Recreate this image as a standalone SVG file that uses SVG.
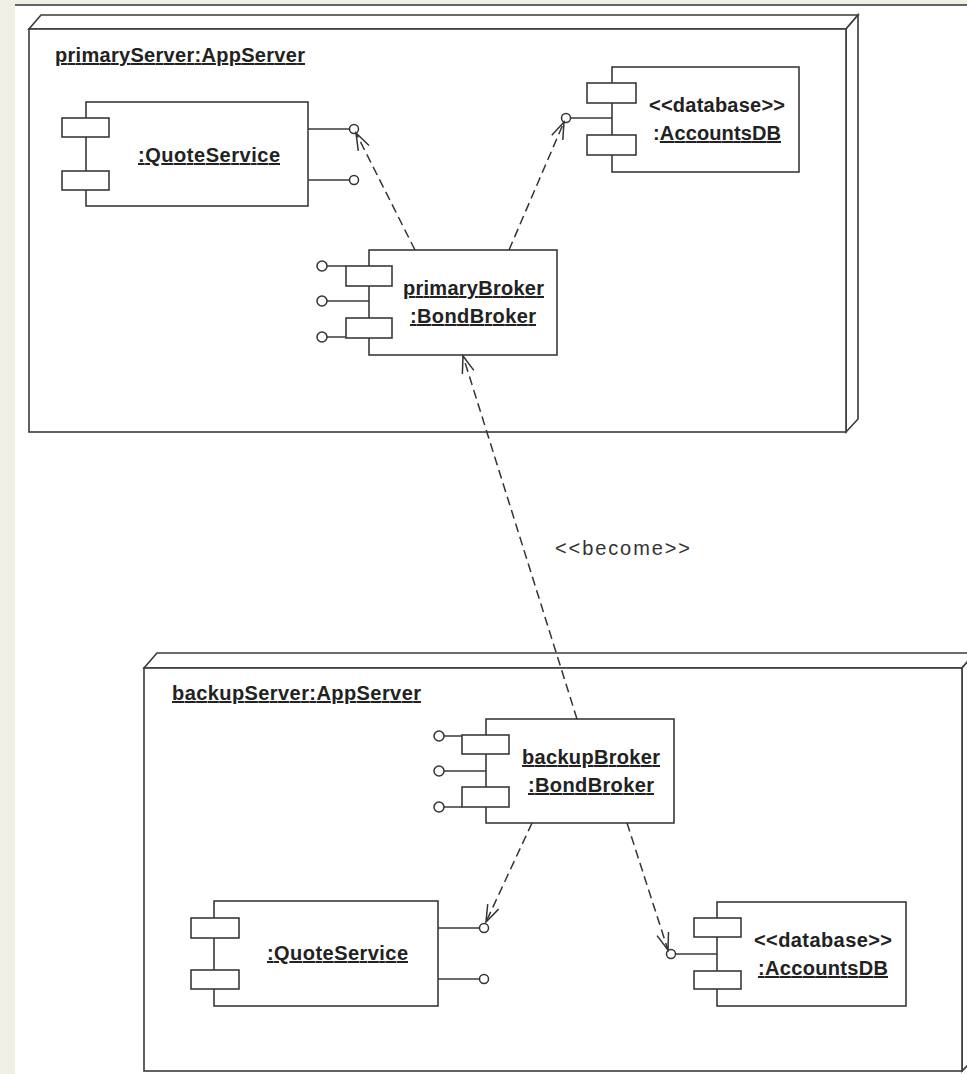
<svg xmlns="http://www.w3.org/2000/svg" width="967" height="1074" viewBox="0 0 967 1074">
  <style>
    .box { fill: #ffffff; stroke: #3a3a3a; stroke-width: 1.6; }
    .ln { fill: none; stroke: #3a3a3a; stroke-width: 1.5; }
    .dep { fill: none; stroke: #333333; stroke-width: 1.5; stroke-dasharray: 9 5; }
    .ball { fill: #ffffff; stroke: #333333; stroke-width: 1.5; }
    .lbl { font-family: "Liberation Sans", Arial, sans-serif; font-size: 20px; font-weight: bold; fill: #222222; }
    .u { text-decoration: underline; }
    .stereo { font-family: "Liberation Sans", Arial, sans-serif; font-size: 20px; fill: #333333; }
  </style>
  <defs>
    <marker id="open" markerUnits="userSpaceOnUse" markerWidth="40" markerHeight="40" viewBox="-20 -20 40 40" refX="0" refY="0" orient="auto">
      <path d="M-17,-6 L0,0 L-17,6" fill="none" stroke="#333333" stroke-width="1.5" stroke-dasharray="none"/>
    </marker>
  </defs>

  <!-- page -->
  <rect x="0" y="0" width="967" height="1074" fill="#f1f0e6"/>
  <rect x="15" y="5" width="952" height="1069" fill="#ffffff"/>
  <line x1="15" y1="5" x2="967" y2="5" stroke="#333333" stroke-width="1.5"/>

  <!-- primary application server node -->
  <g id="primaryServer">
    <polygon class="box" points="29,29 41,15 858,15 846,29"/>
    <polygon class="box" points="846,29 858,15 858,419 846,432"/>
    <rect class="box" x="29" y="29" width="817" height="403"/>
    <text class="lbl u" x="55" y="62" textLength="250" lengthAdjust="spacing">primaryServer:AppServer</text>
  </g>

  <!-- backup application server node -->
  <g id="backupServer">
    <polygon class="box" points="144,668 157,653 975,653 962,668"/>
    <polygon class="box" points="962,668 975,653 975,1058 962,1071"/>
    <rect class="box" x="144" y="668" width="818" height="403"/>
    <text class="lbl u" x="172" y="700" textLength="249" lengthAdjust="spacing">backupServer:AppServer</text>
  </g>

  <!-- components on the primary server -->
  <g id="quoteServicePrimary">
    <line class="ln" x1="308" y1="129" x2="349.5" y2="129"/>
    <line class="ln" x1="308" y1="180" x2="349.5" y2="180"/>
    <circle class="ball" cx="354" cy="129" r="4.5"/>
    <circle class="ball" cx="354" cy="180" r="4.5"/>
    <rect class="box" x="86" y="102" width="222" height="104"/>
    <rect class="box" x="62" y="118" width="47" height="19"/>
    <rect class="box" x="62" y="171" width="47" height="19"/>
    <text class="lbl u" x="138" y="162" textLength="142" lengthAdjust="spacing">:QuoteService</text>
  </g>

  <g id="accountsDBPrimary">
    <line class="ln" x1="570.5" y1="118" x2="612" y2="118"/>
    <circle class="ball" cx="566" cy="118" r="4.5"/>
    <rect class="box" x="612" y="67" width="187" height="105"/>
    <rect class="box" x="587" y="83" width="49" height="20"/>
    <rect class="box" x="587" y="135" width="49" height="20"/>
    <text class="lbl" x="649" y="112" textLength="136" lengthAdjust="spacing">&lt;&lt;database&gt;&gt;</text>
    <text class="lbl" x="653" y="140" textLength="128" lengthAdjust="spacing">:<tspan class="u">AccountsDB</tspan></text>
  </g>

  <g id="primaryBroker">
    <line class="ln" x1="327" y1="266" x2="346" y2="266"/>
    <line class="ln" x1="327" y1="301" x2="369" y2="301"/>
    <line class="ln" x1="327" y1="337" x2="346" y2="337"/>
    <circle class="ball" cx="322" cy="266" r="5"/>
    <circle class="ball" cx="322" cy="301" r="5"/>
    <circle class="ball" cx="322" cy="337" r="5"/>
    <rect class="box" x="369" y="250" width="188" height="105"/>
    <rect class="box" x="346" y="266" width="46" height="20"/>
    <rect class="box" x="346" y="318" width="46" height="20"/>
    <text class="lbl u" x="403" y="295" textLength="141" lengthAdjust="spacing">primaryBroker</text>
    <text class="lbl u" x="410" y="323" textLength="126" lengthAdjust="spacing">:BondBroker</text>
  </g>

  <!-- components on the backup server -->
  <g id="backupBroker">
    <line class="ln" x1="444" y1="736" x2="462" y2="736"/>
    <line class="ln" x1="444" y1="771" x2="486" y2="771"/>
    <line class="ln" x1="444" y1="807" x2="462" y2="807"/>
    <circle class="ball" cx="439" cy="736" r="5"/>
    <circle class="ball" cx="439" cy="771" r="5"/>
    <circle class="ball" cx="439" cy="807" r="5"/>
    <rect class="box" x="486" y="719" width="188" height="104"/>
    <rect class="box" x="462" y="735" width="47" height="19"/>
    <rect class="box" x="462" y="787" width="47" height="20"/>
    <text class="lbl u" x="522" y="764" textLength="138" lengthAdjust="spacing">backupBroker</text>
    <text class="lbl u" x="528" y="792" textLength="126" lengthAdjust="spacing">:BondBroker</text>
  </g>

  <g id="quoteServiceBackup">
    <line class="ln" x1="438" y1="928" x2="479.5" y2="928"/>
    <line class="ln" x1="438" y1="979" x2="479.5" y2="979"/>
    <circle class="ball" cx="484" cy="928" r="4.5"/>
    <circle class="ball" cx="484" cy="979" r="4.5"/>
    <rect class="box" x="214" y="901" width="224" height="105"/>
    <rect class="box" x="191" y="918" width="48" height="20"/>
    <rect class="box" x="191" y="970" width="48" height="19"/>
    <text class="lbl u" x="267" y="960" textLength="141" lengthAdjust="spacing">:QuoteService</text>
  </g>

  <g id="accountsDBBackup">
    <line class="ln" x1="675.5" y1="954" x2="717" y2="954"/>
    <circle class="ball" cx="671" cy="954" r="4.5"/>
    <rect class="box" x="717" y="902" width="189" height="104"/>
    <rect class="box" x="694" y="918" width="47" height="19"/>
    <rect class="box" x="694" y="971" width="47" height="18"/>
    <text class="lbl" x="754" y="947" textLength="138" lengthAdjust="spacing">&lt;&lt;database&gt;&gt;</text>
    <text class="lbl u" x="758" y="975" textLength="130" lengthAdjust="spacing">:AccountsDB</text>
  </g>

  <!-- dependencies -->
  <g id="connectors">
    <line class="dep" x1="415" y1="250" x2="356" y2="133" marker-end="url(#open)"/>
    <line class="dep" x1="509" y1="250" x2="564" y2="122" marker-end="url(#open)"/>
    <line class="dep" x1="577" y1="719" x2="463" y2="356" marker-end="url(#open)"/>
    <line class="dep" x1="532" y1="823" x2="486" y2="922" marker-end="url(#open)"/>
    <line class="dep" x1="627" y1="823" x2="668" y2="950" marker-end="url(#open)"/>
    <text class="stereo" x="555" y="555" textLength="135" lengthAdjust="spacing">&lt;&lt;become&gt;&gt;</text>
  </g>
</svg>
